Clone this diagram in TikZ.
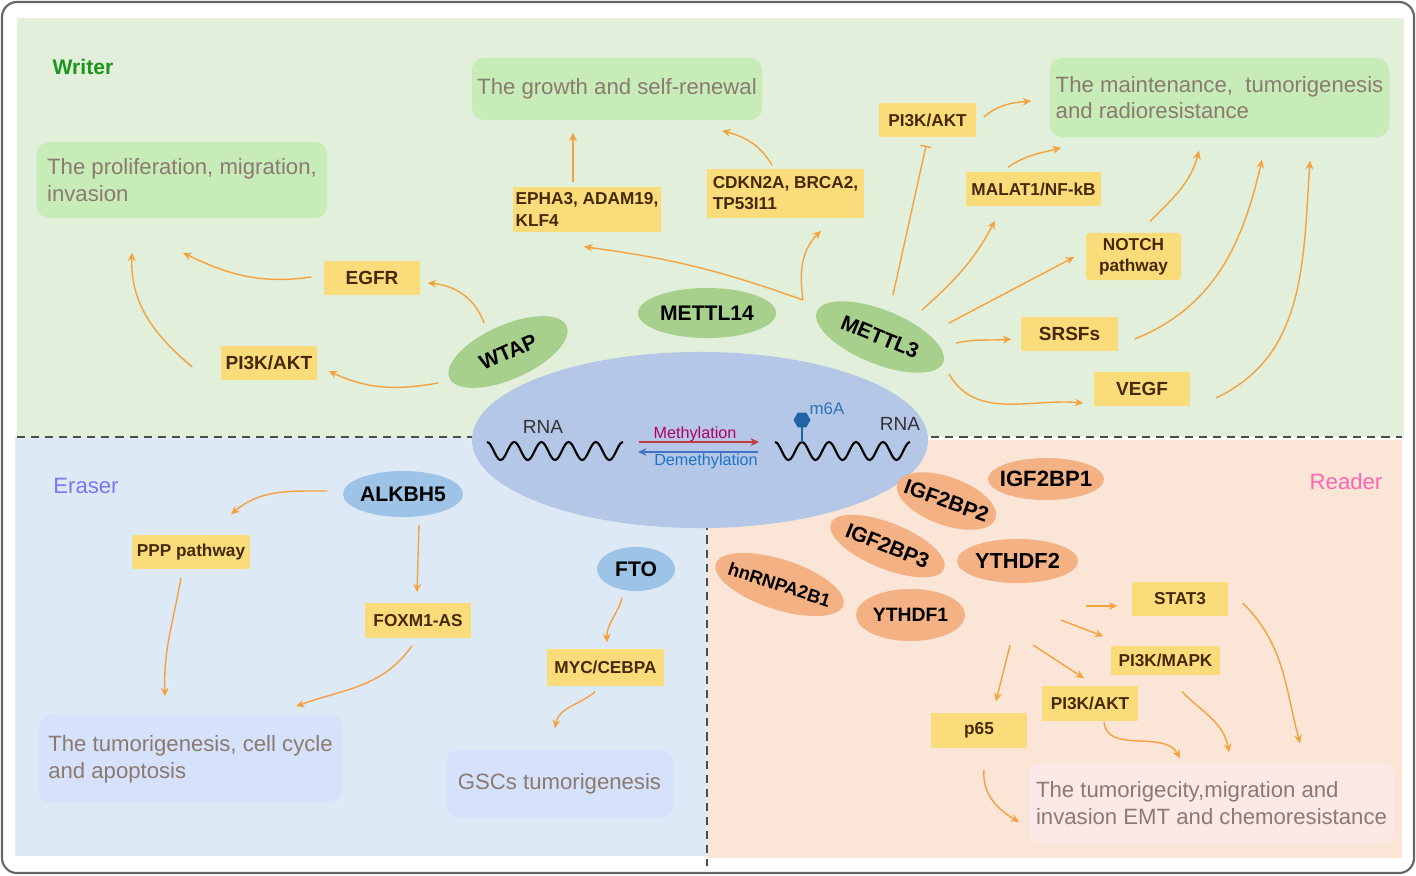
\documentclass[tikz,border=0pt]{standalone}
\usepackage{fontspec}
\setmainfont{Liberation Sans}
\usepackage{tikz}
\usetikzlibrary{calc, arrows.meta, shapes.geometric}
\newcommand{\outfont}{\fontsize{6.3}{7.6}\selectfont}
\newcommand{\boxfont}{\bfseries\fontsize{4.9}{6}\selectfont}
\newcommand{\bigboxfont}{\bfseries\fontsize{5.4}{6}\selectfont}
\newcommand{\protfont}{\bfseries\fontsize{6}{7}\selectfont}
\newcommand{\rnafont}{\fontsize{5.4}{6}\selectfont}
\newcommand{\methfont}{\fontsize{4.6}{5}\selectfont}
\newcommand{\enzyme}[1]{\makebox[0pt]{#1}}
\definecolor{writerbg}{RGB}{226,239,218}
\definecolor{eraserbg}{RGB}{222,233,246}
\definecolor{readerbg}{RGB}{251,229,214}
\definecolor{writerfx}{RGB}{200,236,184}
\definecolor{eraserfx}{RGB}{214,226,251}
\definecolor{readerfx}{RGB}{253,232,232}
\definecolor{writerell}{RGB}{168,208,141}
\definecolor{eraserell}{RGB}{157,195,230}
\definecolor{readerell}{RGB}{244,177,131}
\definecolor{coreblue}{RGB}{180,199,231}
\definecolor{boxyellow}{RGB}{251,220,122}
\definecolor{boxtext}{RGB}{70,40,10}
\definecolor{fxtext}{RGB}{138,122,112}
\definecolor{linkorange}{RGB}{245,162,62}
\definecolor{writergreen}{RGB}{28,150,28}
\definecolor{erasertext}{RGB}{120,120,240}
\definecolor{readertext}{RGB}{255,102,178}
\definecolor{methred}{RGB}{176,0,96}
\definecolor{methline}{RGB}{190,60,60}
\definecolor{demethblue}{RGB}{30,115,200}
\definecolor{demethline}{RGB}{68,114,196}
\definecolor{m6ablue}{RGB}{31,100,165}
\definecolor{m6atext}{RGB}{46,117,182}
\tikzset{>={Stealth[length=2.4pt,width=2.2pt]},
  fx/.style={rounded corners=0.12cm, inner sep=0pt, align=left, text=fxtext, font=\outfont},
  factor/.style={fill=boxyellow, inner sep=0pt, align=left, text=boxtext, font=\boxfont},
  prot/.style={ellipse, inner sep=0pt, font=\protfont},
  link/.style={draw=linkorange, line width=0.4pt, ->},
  inhibit/.style={draw=linkorange, line width=0.4pt, -{Bar[width=3.2pt]}},
  divider/.style={draw=black!70, line width=0.45pt, dash pattern=on 2.3pt off 1.7pt}}

\begin{document}
\begin{tikzpicture}[x=0.01cm, y=0.01cm]

	\useasboundingbox (0,0) rectangle (1416,-875);

	% three panels
	\fill [writerbg] (17,-18) rectangle (1404,-437);
	\fill [eraserbg] (15,-437) rectangle (707,-856);
	\fill [readerbg] (707,-440) rectangle (1402,-858);
	\draw [divider] (17,-437) -- (1402,-437);
	\draw [divider] (707,-437) -- (707,-866);
	\draw [black!60, line width=0.6pt, rounded corners=0.15cm] (2,-2) rectangle (1414,-873);

	% RNA in the middle
	\node [ellipse, fill=coreblue, minimum width=4.56cm, minimum height=1.76cm, inner sep=0pt] (core) at (700,-440) {};
	\node [font=\rnafont, text=black!80] (rnaL) at (543,-427) {RNA};
	\node [font=\rnafont, text=black!80] (rnaR) at (900,-424) {RNA};
	\coordinate (strandL) at (487,-442);
	\coordinate (strandR) at (775,-442);
	\coordinate (site) at (802,-442);
	\draw [line width=0.6pt] (strandL) \foreach \k in {1,...,5} {cos ++(6.8,-9) sin ++(6.8,-9) cos ++(6.8,9) sin ++(6.8,9)};
	\draw [line width=0.6pt] (strandR) \foreach \k in {1,...,5} {cos ++(6.75,-9) sin ++(6.75,-9) cos ++(6.75,9) sin ++(6.75,9)};
	\node [regular polygon, regular polygon sides=6, fill=m6ablue, minimum size=0.17cm, inner sep=0pt] (hexa) at (802,-420) {};
	\draw [m6ablue, line width=0.5pt] (hexa.center) -- (site);
	\node [font=\fontsize{4.8}{5}\selectfont, text=m6atext] (m6a) at (827,-409) {m6A};
	\node [font=\methfont, text=methred] (meth) at (695,-434) {Methylation};
	\node [font=\methfont, text=demethblue] (demeth) at (706,-461) {Demethylation};
	\draw [methline, line width=0.45pt, ->] ($(core.center)+(-61,-2)$) -- ($(core.center)+(59,-2)$);
	\draw [demethline, line width=0.45pt, ->] ($(core.center)+(58,-12)$) -- ($(core.center)+(-62,-12)$);

	% writer
	\node [font=\bfseries\fontsize{6}{7}\selectfont, text=writergreen] (writer) at (83,-67) {Writer};
	\node [fx, fill=writerfx, minimum width=2.90cm, minimum height=0.76cm] (prolif) at (182,-180) {The proliferation, migration,\\invasion};
	\node [fx, fill=writerfx, minimum width=2.90cm, minimum height=0.62cm] (growth) at (617,-89) {The growth and self-renewal};
	\node [fx, fill=writerfx, minimum width=3.39cm, minimum height=0.79cm] (maint) at (1219.5,-97.5) {The maintenance,\ \ tumorigenesis\\and radioresistance};

	\node [factor, font=\bigboxfont, minimum width=0.96cm, minimum height=0.34cm] (egfr) at (372,-278) {EGFR};
	\node [factor, font=\bigboxfont, minimum width=0.96cm, minimum height=0.34cm] (wpik) at (269,-363) {PI3K/AKT};
	\node [factor, minimum width=1.48cm, minimum height=0.45cm] (epha) at (587,-209.5) {EPHA3, ADAM19,\\KLF4};
	\node [factor, minimum width=1.57cm, minimum height=0.49cm] (cdkn) at (785.5,-193.5) {CDKN2A, BRCA2,\\TP53I11};
	\node [factor, minimum width=0.97cm, minimum height=0.34cm] (mpik) at (927.5,-120) {PI3K/AKT};
	\node [factor, minimum width=1.35cm, minimum height=0.34cm] (malat) at (1033.5,-189) {MALAT1/NF-kB};
	\node [factor, rounded corners=0.03cm, align=center, minimum width=0.95cm, minimum height=0.47cm] (notch) at (1133.5,-256.5) {NOTCH\\pathway};
	\node [factor, font=\bigboxfont, minimum width=0.97cm, minimum height=0.34cm] (srsf) at (1069.5,-334) {SRSFs};
	\node [factor, font=\bigboxfont, minimum width=0.96cm, minimum height=0.34cm] (vegf) at (1142,-389) {VEGF};

	\node [prot, fill=writerell, minimum width=1.28cm, minimum height=0.54cm, rotate=24] (wtap) at (508,-352) {\enzyme{WTAP}};
	\node [prot, fill=writerell, minimum width=1.38cm, minimum height=0.50cm] (mettl14) at (707,-313) {\enzyme{METTL14}};
	\node [prot, fill=writerell, minimum width=1.36cm, minimum height=0.54cm, rotate=-22] (mettl3) at (880,-337) {\enzyme{METTL3}};

	\draw [link] ($(wtap.center)+(-24,29)$) to[out=110, in=-5] ($(egfr.east)+(7,-5)$);
	\draw [link] ($(wtap.center)+(-70,-31)$) to[out=190, in=-25] ($(wpik.east)+(11,-8)$);
	\draw [link] ($(egfr.west)+(-12,1)$) to[out=188, in=-26] ($(prolif.south)+(1,-34)$);
	\draw [link] ($(wpik.west)+(-28,-4)$) to[out=140, in=-92] ($(prolif.south)+(-50,-34)$);
	\draw [link] ($(mettl3.center)+(-77,37)$) to[bend right=6] ($(epha.south)+(-3,-14)$);
	\draw [link] ($(mettl3.center)+(-77,37)$) to[out=98, in=225] ($(cdkn.south)+(35.5,-12)$);
	\draw [link] ($(epha.north)+(-14,4)$) -- ($(growth.south)+(-44,-12)$);
	\draw [link] ($(cdkn.north)+(-13.5,3)$) to[out=120, in=-15] ($(growth.south)+(105,-10)$);
	\draw [inhibit] ($(mettl3.center)+(13,42)$) -- ($(mpik.south)+(-1.5,-8)$);
	\draw [link] ($(mpik.east)+(7,3)$) to[out=40, in=185] ($(maint.west)+(-18,-3.5)$);
	\draw [link] ($(mettl3.center)+(42,27)$) to[out=42, in=-118] ($(malat.south)+(-38.5,-14)$);
	\draw [link] ($(malat.north)+(-25.5,4)$) to[out=35, in=195] ($(maint.south)+(-158.5,-10)$);
	\draw [link] ($(mettl3.center)+(69,14)$) -- ($(notch.west)+(-11,-0.5)$);
	\draw [link] ($(notch.north)+(16.5,11)$) to[out=45, in=-105] ($(maint.south)+(-20.5,-13)$);
	\draw [link] ($(mettl3.center)+(76,-6)$) to[out=12, in=185] ($(srsf.west)+(-9,-5)$);
	\draw [link] ($(srsf.east)+(16,-5)$) to[out=22, in=-103] ($(maint.south)+(42.5,-22)$);
	\draw [link] ($(mettl3.center)+(69,-37)$) to[out=-60, in=175] ($(vegf.west)+(-10,-14)$);
	\draw [link] ($(vegf.east)+(25,-9)$) to[out=25, in=-94] ($(maint.south)+(90.5,-23)$);

	% eraser
	\node [font=\fontsize{6.3}{7}\selectfont, text=erasertext] (eraser) at (86,-486) {Eraser};
	\node [prot, fill=eraserell, minimum width=1.20cm, minimum height=0.46cm] (alkbh5) at (403,-494) {\enzyme{ALKBH5}};
	\node [prot, fill=eraserell, minimum width=0.78cm, minimum height=0.44cm] (fto) at (636,-569) {\enzyme{FTO}};
	\node [factor, minimum width=1.18cm, minimum height=0.34cm] (ppp) at (191,-552) {PPP pathway};
	\node [factor, minimum width=1.06cm, minimum height=0.35cm] (foxm) at (418,-620.5) {FOXM1-AS};
	\node [factor, minimum width=1.17cm, minimum height=0.37cm] (myc) at (605.5,-667.5) {MYC/CEBPA};
	\node [fx, fill=eraserfx, minimum width=3.03cm, minimum height=0.88cm] (tumor) at (190.5,-759) {The tumorigenesis, cell cycle\\and apoptosis};
	\node [fx, fill=eraserfx, minimum width=2.27cm, minimum height=0.67cm] (gsc) at (559.5,-783.5) {GSCs tumorigenesis};

	\draw [link] ($(alkbh5.west)+(-15,3)$) to[out=180, in=40] ($(ppp.north)+(40,20)$);
	\draw [link] ($(ppp.south)+(-10,-8)$) to[out=-100, in=92] ($(tumor.north)+(-25.5,18)$);
	\draw [link] ($(alkbh5.south)+(16,-7)$) -- ($(foxm.north)+(-1,10)$);
	\draw [link] ($(foxm.south)+(-6,-7)$) to[out=-125, in=20] ($(tumor.north)+(105.5,8)$);
	\draw [link] ($(fto.south)+(-14,-6)$) to[out=-105, in=92] ($(myc.north)+(1.5,6)$);
	\draw [link] ($(myc.south)+(-10.5,-5)$) to[out=-140, in=80] ($(gsc.north)+(-4.5,21)$);

	% reader
	\node [font=\fontsize{6.3}{7}\selectfont, text=readertext] (reader) at (1346,-482) {Reader};
	\node [prot, font=\bfseries\fontsize{6.3}{7}\selectfont, fill=readerell, minimum width=1.16cm, minimum height=0.42cm] (igf1) at (1046,-479) {\enzyme{IGF2BP1}};
	\node [prot, fill=readerell, minimum width=1.04cm, minimum height=0.48cm, rotate=-20] (igf2) at (946.5,-501) {\enzyme{IGF2BP2}};
	\node [prot, fill=readerell, minimum width=1.22cm, minimum height=0.46cm, rotate=-22] (igf3) at (887.5,-546) {\enzyme{IGF2BP3}};
	\node [prot, font=\bfseries\fontsize{6.2}{7}\selectfont, fill=readerell, minimum width=1.21cm, minimum height=0.44cm] (ythdf2) at (1017.5,-561) {\enzyme{YTHDF2}};
	\node [prot, font=\bfseries\fontsize{5.2}{6}\selectfont, fill=readerell, minimum width=1.34cm, minimum height=0.50cm, rotate=-18] (hnrnp) at (779.5,-584.5) {\enzyme{hnRNPA2B1}};
	\node [prot, font=\bfseries\fontsize{5.5}{6}\selectfont, fill=readerell, minimum width=1.09cm, minimum height=0.52cm] (ythdf1) at (910.5,-615) {\enzyme{YTHDF1}};

	\node [factor, minimum width=0.96cm, minimum height=0.34cm] (stat) at (1180,-599) {STAT3};
	\node [factor, minimum width=1.09cm, minimum height=0.29cm] (pimk) at (1165.5,-660.5) {PI3K/MAPK};
	\node [factor, minimum width=0.96cm, minimum height=0.35cm] (rpik) at (1090,-703.5) {PI3K/AKT};
	\node [factor, minimum width=0.96cm, minimum height=0.35cm] (p65) at (979,-730.5) {p65};
	\node [fx, fill=readerfx, minimum width=3.65cm, minimum height=0.80cm] (emt) at (1211.5,-803) {The tumorigecity,migration and\\invasion EMT and chemoresistance};

	\coordinate (r-stat) at (1086,-606);
	\coordinate (r-mapk) at (1061,-620);
	\coordinate (r-akt) at (1033,-645);
	\coordinate (r-p65) at (1010,-645);
	\draw [link] (r-stat) -- ($(stat.west)+(-14,-7)$);
	\draw [link] (r-mapk) -- ($(pimk.north west)+(-7,9)$);
	\draw [link] (r-akt) -- ($(rpik.north)+(-6,7)$);
	\draw [link] (r-p65) -- ($(p65.north)+(17,11)$);
	\draw [link] ($(stat.east)+(14,-4)$) to[out=-45, in=105] ($(emt.north)+(88.5,19)$);
	\draw [link] ($(pimk.south)+(16.5,-16)$) to[out=-45, in=100] ($(emt.north)+(17.5,10)$);
	\draw [link] ($(rpik.south)+(14,0)$) to[out=-85, in=118] ($(emt.north)+(-31.5,4)$);
	\draw [link] ($(p65.south)+(5,-21)$) to[out=-95, in=150] ($(emt.west)+(-9,-19)$);

\end{tikzpicture}
\end{document}
